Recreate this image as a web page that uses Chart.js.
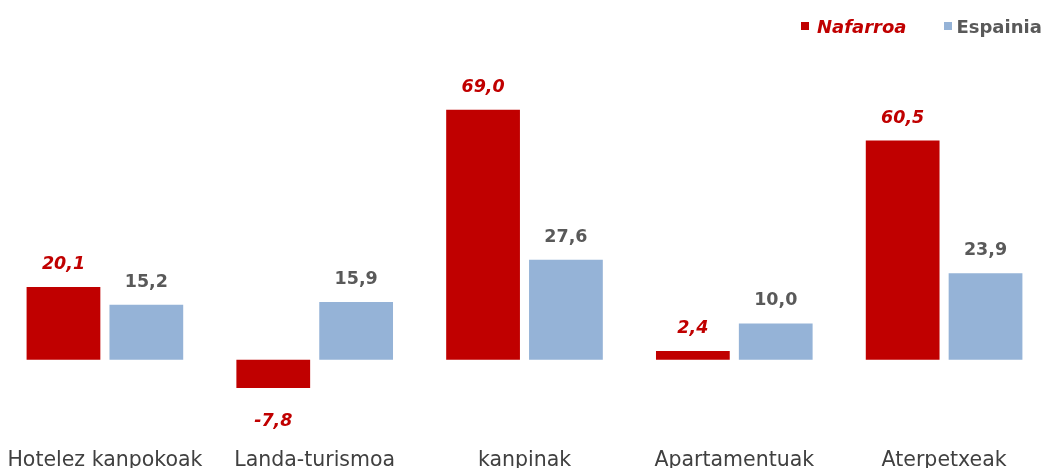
<!DOCTYPE html>
<html>
<head>
<meta charset="utf-8">
<script src="https://cdn.jsdelivr.net/npm/chart.js@4.4.1/dist/chart.umd.min.js"></script>
<style>
  html, body { margin: 0; padding: 0; background: #fff; }
  #wrap { position: relative; width: 1049px; height: 468px; }
  #legend { position: absolute; top: 14px; left: 801px; font-family: "DejaVu Sans", sans-serif; font-size: 18px; font-weight: bold; white-space: nowrap; }
  #legend span { display: inline-block; vertical-align: middle; }
  .sq { width: 8px; height: 8px; margin-right: 8px; }
</style>
</head>
<body>
<div id="wrap">
  <canvas id="myChart" width="1049" height="468"></canvas>
  <div id="legend">
    <span class="sq" style="background:#C00000"></span><span style="color:#C00000;font-style:italic;margin-right:38px">Nafarroa</span><span class="sq" style="background:#95B3D7;margin-right:4px"></span><span style="color:#595959">Espainia</span>
  </div>
</div>
<script>
const kategoriak = ['Hotelez kanpokoak', 'Landa-turismoa', 'kanpinak', 'Apartamentuak', 'Aterpetxeak'];
const nafarroa = [20.1, -7.8, 69.0, 2.4, 60.5];
const espainia = [15.2, 15.9, 27.6, 10.0, 23.9];

const etiketak = {
  id: 'etiketak',
  afterDatasetsDraw(chart) {
    const ctx = chart.ctx;
    ctx.save();
    ctx.textAlign = 'center';
    ctx.textBaseline = 'alphabetic';
    chart.data.datasets.forEach((ds, i) => {
      const meta = chart.getDatasetMeta(i);
      ctx.fillStyle = ds.labelColor;
      ctx.font = ds.labelFont;
      meta.data.forEach((bar, j) => {
        const v = ds.data[j];
        const txt = v.toFixed(1).replace('.', ',');
        const y = v >= 0 ? bar.y - 18 : bar.y + 38;
        ctx.fillText(txt, bar.x, y);
      });
    });
    ctx.restore();
  }
};

const ctx = document.getElementById('myChart').getContext('2d');
const myChart = new Chart(ctx, {
  type: 'bar',
  data: {
    labels: kategoriak,
    datasets: [{
      label: 'Nafarroa',
      data: nafarroa,
      backgroundColor: '#C00000',
      labelColor: '#C00000',
      labelFont: 'italic bold 17.5px "DejaVu Sans"',
      categoryPercentage: 0.79,
      barPercentage: 0.89
    }, {
      label: 'Espainia',
      data: espainia,
      backgroundColor: '#95B3D7',
      labelColor: '#595959',
      labelFont: 'bold 17.5px "DejaVu Sans"',
      categoryPercentage: 0.79,
      barPercentage: 0.89
    }]
  },
  options: {
    responsive: false,
    animation: false,
    layout: { padding: { top: 70, left: 0, right: 0, bottom: 0 } },
    plugins: { legend: { display: false }, tooltip: { enabled: false } },
    scales: {
      y: { display: false, min: -15, max: 80 },
      x: {
        grid: { display: false, drawTicks: false },
        border: { display: false },
        ticks: { color: '#404040', padding: 34, maxRotation: 0, autoSkip: false,
          font: { family: 'DejaVu Sans', size: 20.5 } },
        afterFit(scale) {
          scale.height = 54;
          scale.paddingLeft = 0;
          scale.paddingRight = 0;
        }
      }
    }
  },
  plugins: [etiketak]
});
</script>
</body>
</html>
